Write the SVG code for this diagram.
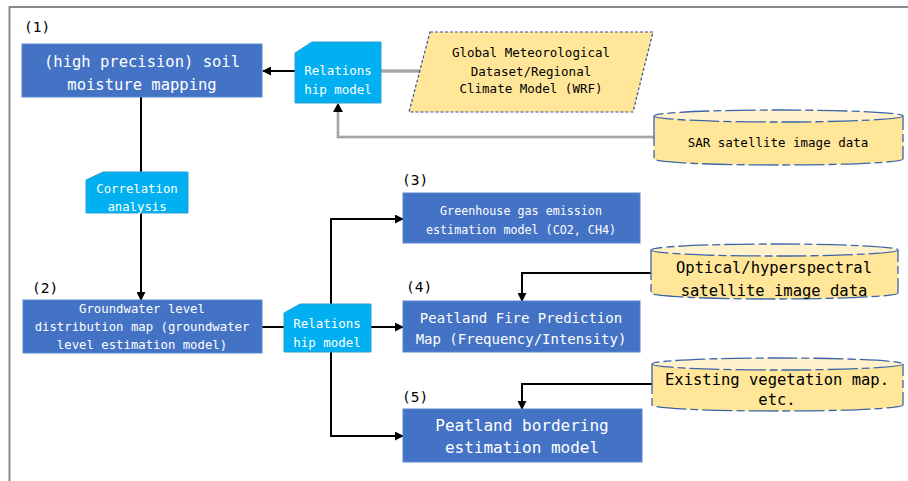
<svg xmlns="http://www.w3.org/2000/svg" width="908" height="481" viewBox="0 0 908 481">
  <defs>
    <marker id="arrow" viewBox="0 0 10 10" refX="9" refY="5" markerWidth="9" markerHeight="9" markerUnits="userSpaceOnUse" orient="auto">
      <path d="M0,0 L10,5 L0,10 z" fill="#000"/>
    </marker>
    <style>
      .frame { fill: none; stroke: #8a8a8a; stroke-width: 2; }
      .box { fill: #4472C4; stroke: #5a86d0; stroke-width: 1; }
      .rel { fill: #00B0F0; stroke: #2a9fd6; stroke-width: 1; }
      .data { fill: #FFE699; stroke: #3d64a8; stroke-width: 1.3; stroke-dasharray: 30 4 8 4; }
      .datatop { fill: #FFF2CC; stroke: #3d64a8; stroke-width: 1.3; stroke-dasharray: 30 4 8 4; }
      .para { fill: #FFE699; stroke: #2f5597; stroke-width: 1.2; stroke-dasharray: 3 2; }
      .wire { fill: none; stroke: #000; stroke-width: 2; }
      .gray { fill: none; stroke: #858585; stroke-width: 3; }
      .grayin { fill: none; stroke: #c8c8c8; stroke-width: 1; }
      .mono { font-family: "DejaVu Sans Mono", "Liberation Mono", monospace; }
      .wt { fill: #fff; text-anchor: middle; }
      .bk { fill: #000; text-anchor: middle; }
      .num { font-family: "DejaVu Sans Mono", "Liberation Mono", monospace; font-size: 14.5px; fill: #000; }
    </style>
  </defs>

  <rect width="908" height="481" fill="#fff"/>
  <path class="frame" d="M908,7 H9.5 V481"/>

  <!-- connectors -->
  <g id="connectors">
    <line class="wire" x1="295" y1="71" x2="263" y2="71" marker-end="url(#arrow)"/>
    <line class="gray" x1="381" y1="71" x2="422" y2="71"/>
    <line class="grayin" x1="381" y1="71" x2="422" y2="71"/>
    <path class="gray" style="stroke-width:2.5" d="M654,137 H338 V110"/>
    <path class="grayin" d="M654,137 H338 V110"/>
    <path d="M333,112 L338,103 L343,112 z" fill="#000"/>
    <line class="wire" x1="141" y1="97" x2="141" y2="172"/>
    <line class="wire" x1="141" y1="213" x2="141" y2="300" marker-end="url(#arrow)"/>
    <line class="wire" x1="262" y1="327" x2="284" y2="327"/>
    <line class="wire" x1="371" y1="327" x2="403" y2="327" marker-end="url(#arrow)"/>
    <path class="wire" d="M331,304 V219 H403" marker-end="url(#arrow)"/>
    <path class="wire" d="M331,352 V436 H403" marker-end="url(#arrow)"/>
    <path class="wire" d="M651,273 H522 V301" marker-end="url(#arrow)"/>
    <path class="wire" d="M652,384 H522 V409" marker-end="url(#arrow)"/>
  </g>

  <!-- (1) soil moisture mapping -->
  <g id="node1">
    <text class="num" x="24" y="32">(1)</text>
    <rect class="box" x="22" y="44" width="240" height="53"/>
    <text class="mono wt" font-size="15.5" x="142" y="67">(high precision) soil</text>
    <text class="mono wt" font-size="15.5" x="142" y="90">moisture mapping</text>
  </g>

  <!-- relationship model (upper) -->
  <g id="rel1">
    <path class="rel" d="M295,53 L312,42 H381 V103 H295 z"/>
    <text class="mono wt" font-size="12.5" x="338" y="75">Relations</text>
    <text class="mono wt" font-size="12.5" x="338" y="94">hip model</text>
  </g>

  <!-- climate dataset -->
  <g id="climate">
    <path class="para" d="M430,32 H653 L633,112 H409 z"/>
    <text class="mono bk" font-size="12.5" x="531" y="57">Global Meteorological</text>
    <text class="mono bk" font-size="12.5" x="531" y="76">Dataset/Regional</text>
    <text class="mono bk" font-size="12.5" x="531" y="93">Climate Model (WRF)</text>
  </g>

  <!-- SAR data -->
  <g id="sar">
    <path class="data" d="M654,116 V159 A124.5,6 0 0 0 903,159 V116"/>
    <ellipse class="datatop" cx="778.5" cy="116" rx="124.5" ry="6"/>
    <text class="mono bk" font-size="12.5" x="778" y="147">SAR satellite image data</text>
  </g>

  <!-- correlation analysis -->
  <g id="correlation">
    <path class="rel" d="M86,180 L103,172 H188 V213 H86 z"/>
    <text class="mono wt" font-size="12.3" x="137" y="193">Correlation</text>
    <text class="mono wt" font-size="12.3" x="137" y="211">analysis</text>
  </g>

  <!-- (2) groundwater map -->
  <g id="node2">
    <text class="num" x="32" y="293">(2)</text>
    <rect class="box" x="23" y="300" width="239" height="53"/>
    <text class="mono wt" font-size="12.3" x="142" y="313">Groundwater level</text>
    <text class="mono wt" font-size="12.3" x="142" y="331">distribution map (groundwater</text>
    <text class="mono wt" font-size="12.3" x="142" y="349">level estimation model)</text>
  </g>

  <!-- relationship model (lower) -->
  <g id="rel2">
    <path class="rel" d="M284,313 L300,304 H371 V352 H284 z"/>
    <text class="mono wt" font-size="12.5" x="327" y="328">Relations</text>
    <text class="mono wt" font-size="12.5" x="327" y="347">hip model</text>
  </g>

  <!-- (3) greenhouse gas -->
  <g id="node3">
    <text class="num" x="402" y="185">(3)</text>
    <rect class="box" x="403" y="193" width="237" height="50"/>
    <text class="mono wt" font-size="11.7" x="521" y="215">Greenhouse gas emission</text>
    <text class="mono wt" font-size="11.7" x="521" y="234">estimation model (CO2, CH4)</text>
  </g>

  <!-- optical data -->
  <g id="optical">
    <path class="data" d="M651,250 V293 A123.5,6 0 0 0 898,293 V250"/>
    <ellipse class="datatop" cx="774.5" cy="250" rx="123.5" ry="6"/>
    <text class="mono bk" font-size="15.5" x="774" y="273">Optical/hyperspectral</text>
    <text class="mono bk" font-size="15.5" x="774" y="296">satellite image data</text>
  </g>

  <!-- (4) fire prediction -->
  <g id="node4">
    <text class="num" x="406" y="292">(4)</text>
    <rect class="box" x="403" y="301" width="237" height="51"/>
    <text class="mono wt" font-size="14" x="521" y="323">Peatland Fire Prediction</text>
    <text class="mono wt" font-size="14" x="521" y="344">Map (Frequency/Intensity)</text>
  </g>

  <!-- vegetation data -->
  <g id="vegetation">
    <path class="data" d="M652,364 V405 A125.5,6 0 0 0 903,405 V364"/>
    <ellipse class="datatop" cx="777.5" cy="364" rx="125.5" ry="6"/>
    <text class="mono bk" font-size="15.5" x="777" y="385">Existing vegetation map.</text>
    <text class="mono bk" font-size="15.5" x="777" y="405">etc.</text>
  </g>

  <!-- (5) bordering model -->
  <g id="node5">
    <text class="num" x="402" y="402">(5)</text>
    <rect class="box" x="403" y="409" width="239" height="53"/>
    <text class="mono wt" font-size="16" x="522" y="431">Peatland bordering</text>
    <text class="mono wt" font-size="16" x="522" y="453">estimation model</text>
  </g>
</svg>
